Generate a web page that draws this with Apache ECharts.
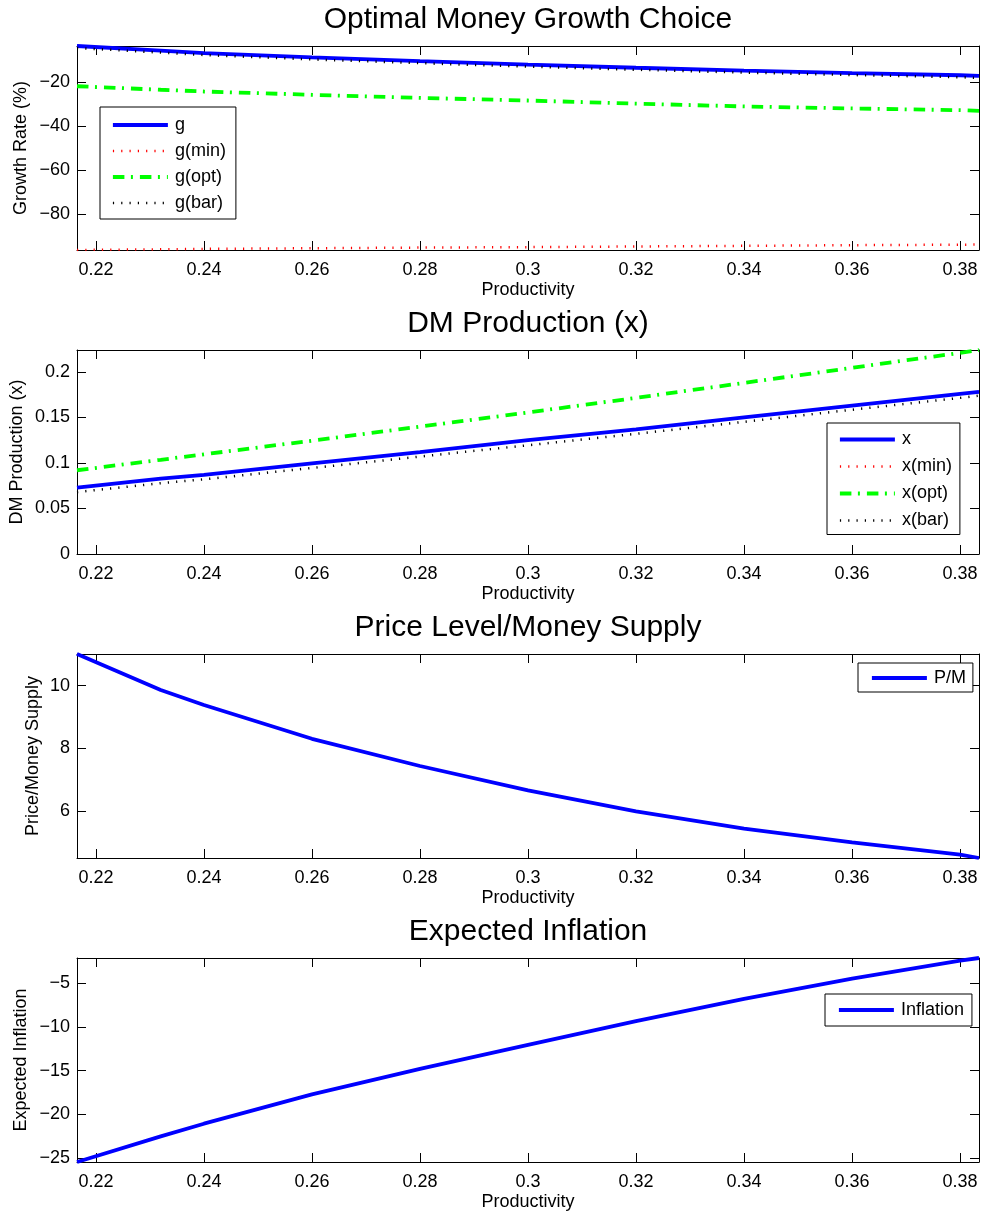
<!DOCTYPE html>
<html>
<head>
<meta charset="utf-8">
<script src="https://cdn.jsdelivr.net/npm/echarts@6/dist/echarts.min.js"></script>
<style>
  html, body { margin: 0; padding: 0; background: #ffffff; }
  #chart { width: 984px; height: 1214px; }
</style>
</head>
<body>
<div id="chart"></div>
<script>
// Productivity grid shared by all four panels
const productivity = [0.2165, 0.232, 0.24, 0.26, 0.28, 0.30, 0.32, 0.34, 0.36, 0.38, 0.3835];

// Panel 1: money growth rates (%)
const gVals    = [-3.4, -5.5, -6.6, -8.6, -10.3, -11.9, -13.3, -14.6, -15.7, -16.7, -17.0];
const gMinVals = [-96.2, -95.9, -95.7, -95.4, -95.1, -94.9, -94.6, -94.3, -94.0, -93.8, -93.7];
const gOptVals = [-21.7, -23.3, -24.1, -25.6, -27.0, -28.2, -29.6, -30.9, -31.8, -32.6, -32.9];
const gBarVals = [-4.3, -6.4, -7.5, -9.5, -11.2, -12.8, -14.2, -15.5, -16.6, -17.6, -17.9];

// Panel 2: DM production
const xVals    = [0.073, 0.0828, 0.087, 0.0995, 0.112, 0.125, 0.137, 0.150, 0.163, 0.176, 0.178];
const xMinVals = [];   // no x(min) points inside the plotted range
const xOptVals = [0.092, 0.1035, 0.1095, 0.1245, 0.140, 0.1555, 0.1715, 0.188, 0.2045, 0.221, 0.224];
const xBarVals = [0.068, 0.0778, 0.082, 0.0945, 0.107, 0.1195, 0.132, 0.1452, 0.1585, 0.1715, 0.174];

// Panel 3: price level / money supply
const pmVals   = [11.01, 9.86, 9.38, 8.30, 7.43, 6.65, 5.98, 5.43, 4.99, 4.60, 4.49];

// Panel 4: expected inflation
const inflVals = [-25.42, -22.5, -21.05, -17.7, -14.8, -12.05, -9.35, -6.8, -4.5, -2.45, -2.14];

const xTickLabels = ['0.22', '0.24', '0.26', '0.28', '0.3', '0.32', '0.34', '0.36', '0.38'];

const FONT = '"Liberation Sans", Arial, Helvetica, sans-serif';
const X_MIN = 0.2165, X_MAX = 0.3835;
const GRID_LEFT = 77, GRID_RIGHT = 5, GRID_H = 204;
const GRID_TOPS = [46, 350, 654, 958];

const BLUE = '#0000ff', RED = '#ff0000', GREEN = '#00ff00', BLACK = '#000000';
const CLEAR = 'rgba(0,0,0,0)';
const styleSolid  = { color: BLUE,  width: 3.8, type: 'solid' };
const styleDotRed = { color: RED,   width: 2.5, type: [1.2, 7.1] };
const styleDash   = { color: GREEN, width: 3.8, type: [11.5, 6.5, 2, 7] };
const styleDotBlk = { color: BLACK, width: 2.5, type: [1.2, 7.1] };

const pair = vals => vals.map((v, i) => [productivity[i], v]);

const panels = [
  {
    title: 'Optimal Money Growth Choice', yName: 'Growth Rate (%)', yGap: 47,
    yMin: -96.2, yMax: -3.4, ySplit: 5, showMin: false,
    lines: [['g', gVals, styleSolid], ['g(min)', gMinVals, styleDotRed],
            ['g(opt)', gOptVals, styleDash], ['g(bar)', gBarVals, styleDotBlk]],
    legend: { left: 100, top: 107, padding: [8, 10, 6, 11], itemGap: 6 }
  },
  {
    title: 'DM Production (x)', yName: 'DM Production (x)', yGap: 51,
    yMin: 0, yMax: 0.2241, ySplit: 5, showMin: true,
    lines: [['x', xVals, styleSolid], ['x(min)', xMinVals, styleDotRed],
            ['x(opt)', xOptVals, styleDash], ['x(bar)', xBarVals, styleDotBlk]],
    legend: { left: 827, top: 423, padding: [6.5, 8, 4, 11], itemGap: 7 }
  },
  {
    title: 'Price Level/Money Supply', yName: 'Price/Money Supply', yGap: 35,
    yMin: 4.49, yMax: 11.01, ySplit: 4, showMin: false,
    lines: [['P/M', pmVals, styleSolid]],
    legend: { left: 858, top: 663, padding: [5, 7, 4, 12], itemGap: 6 }
  },
  {
    title: 'Expected Inflation', yName: 'Expected Inflation', yGap: 47,
    yMin: -25.42, yMax: -2.14, ySplit: 5, showMin: false,
    lines: [['Inflation', inflVals, styleSolid]],
    legend: { left: 825, top: 994, padding: [6, 8, 6, 12], itemGap: 6 }
  }
];

const minus = v => String(v).replace('-', '\u2212');
const tickStyle = { show: true, inside: true, length: 9, lineStyle: { color: BLACK, width: 1 } };
const lineAx = { show: true, onZero: false, lineStyle: { color: BLACK, width: 1 } };

const option = {
  animation: false,
  backgroundColor: '#ffffff',
  textStyle: { fontFamily: FONT },
  title: [], grid: [], xAxis: [], yAxis: [], legend: [], series: []
};

panels.forEach((p, k) => {
  const top = GRID_TOPS[k];
  option.grid.push({ left: GRID_LEFT, right: GRID_RIGHT, top: top, height: GRID_H,
                     outerBoundsMode: 'none', containLabel: false });
  option.title.push({
    text: p.title, left: 528, top: top - 41, textAlign: 'center', padding: 0,
    textStyle: { fontFamily: FONT, fontSize: 30, fontWeight: 'normal', color: BLACK }
  });
  // bottom (labelled) and top (frame) x axes
  option.xAxis.push({
    type: 'value', gridIndex: k, position: 'bottom', min: X_MIN, max: X_MAX, splitNumber: 8,
    name: 'Productivity', nameLocation: 'middle', nameGap: 31, nameMoveOverlap: false,
    nameTextStyle: { fontFamily: FONT, fontSize: 18, color: BLACK },
    axisLine: lineAx, axisTick: tickStyle, splitLine: { show: false },
    axisLabel: { show: true, margin: 11, showMinLabel: false, showMaxLabel: false,
                 fontFamily: FONT, fontSize: 18, color: BLACK,
                 formatter: v => (xTickLabels.find(t => Math.abs(parseFloat(t) - v) < 1e-6) || '') }
  });
  option.xAxis.push({
    type: 'value', gridIndex: k, position: 'top', min: X_MIN, max: X_MAX, splitNumber: 8,
    axisLine: lineAx, axisTick: tickStyle, splitLine: { show: false }, axisLabel: { show: false }
  });
  // left (labelled) and right (frame) y axes
  option.yAxis.push({
    type: 'value', gridIndex: k, position: 'left', min: p.yMin, max: p.yMax, splitNumber: p.ySplit,
    name: p.yName, nameLocation: 'middle', nameGap: p.yGap, nameMoveOverlap: false,
    nameTextStyle: { fontFamily: FONT, fontSize: 18, color: BLACK },
    axisLine: lineAx, axisTick: tickStyle, splitLine: { show: false },
    axisLabel: { show: true, margin: 7, showMinLabel: p.showMin, showMaxLabel: false,
                 fontFamily: FONT, fontSize: 18, color: BLACK, formatter: minus }
  });
  option.yAxis.push({
    type: 'value', gridIndex: k, position: 'right', min: p.yMin, max: p.yMax, splitNumber: p.ySplit,
    axisLine: lineAx, axisTick: tickStyle, splitLine: { show: false }, axisLabel: { show: false }
  });

  p.lines.forEach(([name, vals, st]) => {
    option.series.push({
      type: 'line', name: name, xAxisIndex: 2 * k, yAxisIndex: 2 * k,
      data: pair(vals), showSymbol: false, symbol: 'none', smooth: false, clip: true,
      lineStyle: { color: st.color, width: st.width, type: st.type },
      itemStyle: { color: st.color }
    });
  });

  option.legend.push({
    show: true, orient: 'vertical', left: p.legend.left, top: p.legend.top,
    padding: p.legend.padding, itemGap: p.legend.itemGap,
    itemWidth: 55, itemHeight: 14, selectedMode: false,
    backgroundColor: '#ffffff', borderColor: BLACK, borderWidth: 1, borderRadius: 0,
    data: p.lines.map(l => l[0]),
    // legend keys show only the line sample, no marker
    itemStyle: { color: CLEAR, borderColor: CLEAR, borderWidth: 0 },
    lineStyle: { width: 'inherit', type: 'inherit', color: 'inherit' },
    textStyle: { fontFamily: FONT, fontSize: 18, color: BLACK, lineHeight: 20, padding: [0, 0, 0, 2] }
  });
});

const chart = echarts.init(document.getElementById('chart'), null, { renderer: 'canvas' });
chart.setOption(option);
</script>
</body>
</html>
